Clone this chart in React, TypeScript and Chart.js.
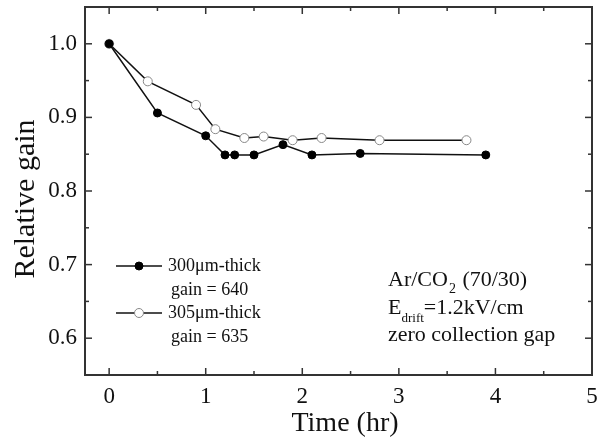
import React, { useEffect, useRef } from "react";
import { Chart, registerables } from "chart.js";

Chart.register(...registerables);

const xFilled = [0, 0.5, 1.0, 1.2, 1.3, 1.5, 1.8, 2.1, 2.6, 3.9];
const yFilled = [1.0, 0.906, 0.875, 0.849, 0.849, 0.849, 0.863, 0.849, 0.851, 0.849];
const xOpen = [0, 0.4, 0.9, 1.1, 1.4, 1.6, 1.9, 2.2, 2.8, 3.7];
const yOpen = [1.0, 0.949, 0.917, 0.884, 0.872, 0.874, 0.869, 0.872, 0.869, 0.869];

const xTickValues = [0, 1, 2, 3, 4, 5];
const yTickValues = [0.6, 0.7, 0.8, 0.9, 1.0];
const xMinorValues = [0.5, 1.5, 2.5, 3.5, 4.5];
const yMinorValues = [0.55, 0.65, 0.75, 0.85, 0.95, 1.05];

const legendLabels = [
  ["300\u03bcm-thick", "gain = 640"],
  ["305\u03bcm-thick", "gain = 635"],
];
const xTitle = "Time (hr)";
const yTitle = "Relative gain";

const FONT = "'Liberation Serif', 'Times New Roman', serif";
const INK = "#111";

const framePlugin = {
  id: "frameTicks",
  beforeDatasetsDraw(chart: any) {
    const { ctx, chartArea } = chart;
    const { left, right, top, bottom } = chartArea;
    const xs = chart.scales.x;
    const ys = chart.scales.y;
    ctx.save();
    ctx.strokeStyle = "#333";
    ctx.lineWidth = 1.5;
    const line = (x1: number, y1: number, x2: number, y2: number) => {
      ctx.beginPath();
      ctx.moveTo(x1, y1);
      ctx.lineTo(x2, y2);
      ctx.stroke();
    };
    const tick = (vals: number[], len: number) => {
      vals.forEach((v) => {
        const px = xs.getPixelForValue(v);
        line(px, bottom, px, bottom - len);
        line(px, top, px, top + len);
      });
    };
    const ytick = (vals: number[], len: number) => {
      vals.forEach((v) => {
        const py = ys.getPixelForValue(v);
        line(left, py, left + len, py);
        line(right, py, right - len, py);
      });
    };
    tick(xTickValues, 7);
    tick(xMinorValues, 4);
    ytick(yTickValues, 7);
    ytick(yMinorValues, 4);
    ctx.lineWidth = 2;
    ctx.strokeRect(left, top, right - left, bottom - top);
    ctx.restore();
  },
  afterDraw(chart: any) {
    const { ctx } = chart;
    ctx.save();
    ctx.fillStyle = INK;
    // axis titles
    ctx.font = `28px ${FONT}`;
    ctx.textAlign = "center";
    ctx.textBaseline = "alphabetic";
    ctx.fillText(xTitle, 345, 431);
    ctx.save();
    ctx.translate(34, 199);
    ctx.rotate(-Math.PI / 2);
    ctx.font = `30px ${FONT}`;
    ctx.fillText(yTitle, 0, 0);
    ctx.restore();

    // legend
    const ds = chart.data.datasets;
    const rows = [266, 313];
    rows.forEach((ry, i) => {
      const d = ds[i];
      ctx.strokeStyle = d.borderColor;
      ctx.lineWidth = 1.5;
      ctx.beginPath();
      ctx.moveTo(116, ry);
      ctx.lineTo(162, ry);
      ctx.stroke();
      ctx.beginPath();
      ctx.arc(139, ry, d.pointRadius, 0, Math.PI * 2);
      ctx.fillStyle = d.pointBackgroundColor;
      ctx.fill();
      ctx.lineWidth = d.pointBorderWidth;
      ctx.strokeStyle = d.pointBorderColor;
      ctx.stroke();
      ctx.fillStyle = INK;
      ctx.font = `18px ${FONT}`;
      ctx.textAlign = "left";
      ctx.textBaseline = "middle";
      ctx.fillText(legendLabels[i][0], 168, ry);
      ctx.fillText(legendLabels[i][1], 171, ry + 24);
    });

    // annotation
    ctx.textAlign = "left";
    ctx.textBaseline = "alphabetic";
    const big = `22px ${FONT}`;
    const small = `14px ${FONT}`;
    let x = 388;
    ctx.font = big;
    ctx.fillText("Ar/CO", x, 286);
    x += ctx.measureText("Ar/CO").width;
    ctx.font = small;
    ctx.fillText("2", x + 1, 293);
    x += ctx.measureText("2").width + 2;
    ctx.font = big;
    ctx.fillText(" (70/30)", x, 286);

    x = 388;
    ctx.fillText("E", x, 314);
    x += ctx.measureText("E").width;
    ctx.font = `13px ${FONT}`;
    ctx.fillText("drift", x, 322);
    x += ctx.measureText("drift").width;
    ctx.font = big;
    ctx.fillText("=1.2kV/cm", x, 314);

    ctx.fillText("zero collection gap", 388, 341);
    ctx.restore();
  },
};

export default function App() {
  const ref = useRef<HTMLCanvasElement | null>(null);
  useEffect(() => {
    if (!ref.current) return;
    const chart = new Chart(ref.current, {
      type: "scatter",
      data: {
        datasets: [
          {
            label: legendLabels[0].join(" "),
            data: xFilled.map((x, i) => ({ x, y: yFilled[i] })),
            showLine: true,
            borderColor: INK,
            borderWidth: 1.5,
            pointRadius: 4,
            pointBackgroundColor: "#000",
            pointBorderColor: "#000",
            pointBorderWidth: 1,
          },
          {
            label: legendLabels[1].join(" "),
            data: xOpen.map((x, i) => ({ x, y: yOpen[i] })),
            showLine: true,
            borderColor: INK,
            borderWidth: 1.5,
            pointRadius: 4.5,
            pointBackgroundColor: "#fff",
            pointBorderColor: "#888",
            pointBorderWidth: 1,
          },
        ],
      },
      options: {
        animation: false,
        responsive: false,
        layout: { padding: { top: 7, right: 12, left: 0, bottom: 0 } },
        plugins: { legend: { display: false }, tooltip: { enabled: false } },
        scales: {
          x: {
            type: "linear",
            min: -0.25,
            max: 5,
            afterBuildTicks: (s: any) => {
              s.ticks = xTickValues.map((v) => ({ value: v }));
            },
            afterFit: (s: any) => {
              s.height = 66;
              s.paddingLeft = 0;
              s.paddingRight = 0;
            },
            grid: { display: false, drawTicks: false },
            border: { display: false },
            ticks: {
              font: { family: FONT, size: 23 },
              color: INK,
              padding: 8,
              maxRotation: 0,
              autoSkip: false,
              callback: (v: any) => String(v),
            },
          },
          y: {
            type: "linear",
            min: 0.55,
            max: 1.05,
            afterBuildTicks: (s: any) => {
              s.ticks = yTickValues.map((v) => ({ value: v }));
            },
            afterFit: (s: any) => {
              s.width = 85;
              s.paddingTop = 0;
              s.paddingBottom = 0;
            },
            grid: { display: false, drawTicks: false },
            border: { display: false },
            ticks: {
              font: { family: FONT, size: 23 },
              color: INK,
              padding: 8,
              autoSkip: false,
              callback: (v: any) => Number(v).toFixed(1),
            },
          },
        },
      },
      plugins: [framePlugin],
    } as any);
    return () => chart.destroy();
  }, []);
  return (
    <div style={{ position: "absolute", left: 0, top: 0, width: 604, height: 441, background: "#fff" }}>
      <canvas ref={ref} width={604} height={441} />
    </div>
  );
}
